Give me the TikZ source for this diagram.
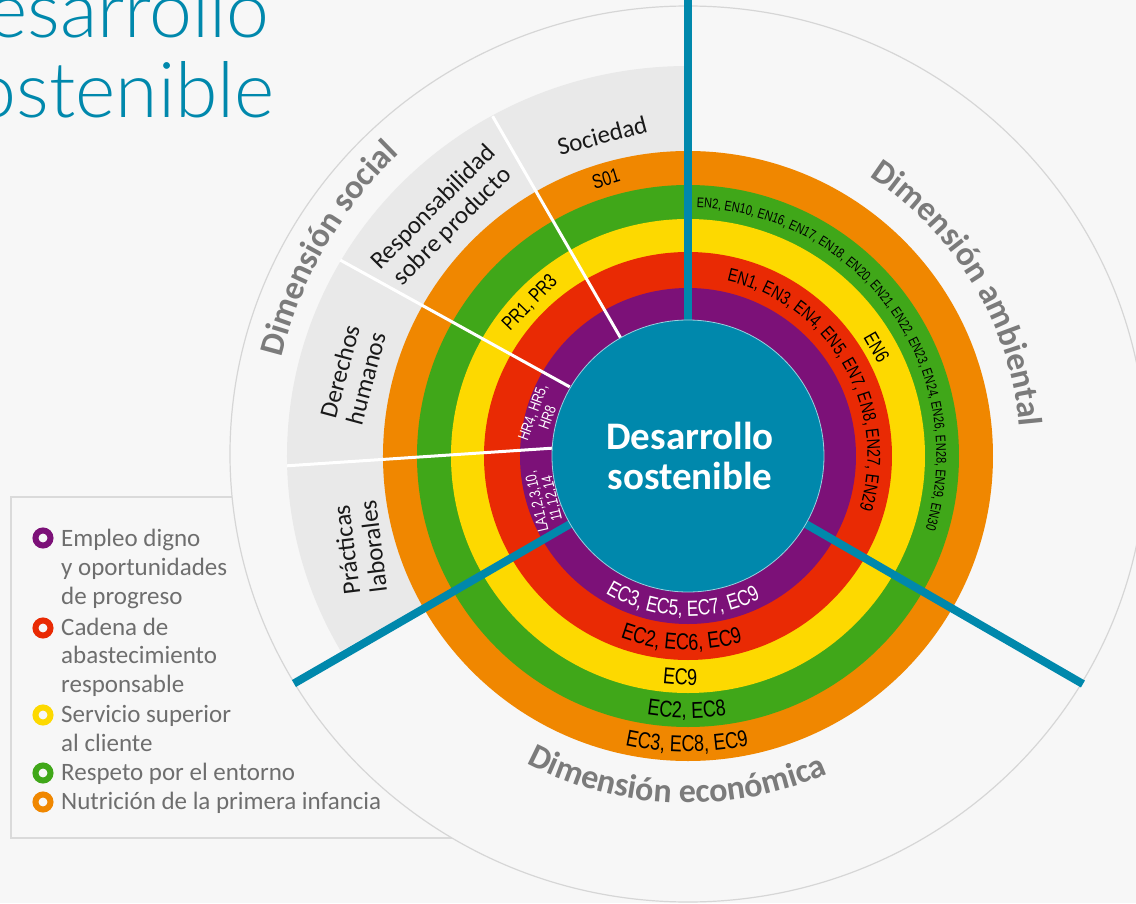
\documentclass[tikz,border=0pt]{standalone}
\usepackage{fontspec}
\setmainfont{Carlito}
\newfontfamily\codefont[FakeStretch=0.78]{Liberation Sans}
\newfontfamily\titlefont{Lato Light}
\usetikzlibrary{decorations.text}
\definecolor{bg}{HTML}{F7F7F7}
\definecolor{cteal}{HTML}{0088AC}
\definecolor{cpurple}{HTML}{7C1178}
\definecolor{cred}{HTML}{E92A04}
\definecolor{cyellow}{HTML}{FDD900}
\definecolor{cgreen}{HTML}{40A719}
\definecolor{corange}{HTML}{F08700}
\definecolor{sectorgray}{HTML}{E9E9E9}
\definecolor{dimgray}{HTML}{7B7B7B}
\definecolor{leggray}{HTML}{6E6E6E}
\definecolor{linegray}{HTML}{D6D6D6}
\definecolor{boxgray}{HTML}{DADADA}
\tikzset{
  glabel/.style={font=\fontsize{25}{27}\selectfont, text=black!90, inner sep=0pt, align=center},
  codelab/.style={font=\codefont\fontsize{20}{20}\selectfont, text=black, inner sep=0pt, align=center},
  codesmall/.style={font=\codefont\fontsize{15.5}{15.5}\selectfont, text=white, inner sep=0pt, align=center},
  legtext/.style={font=\fontsize{25}{29}\selectfont, text=leggray, inner sep=0pt, anchor=base west},
  legmark/.style={line width=6pt},
  sepline/.style={white, line width=3pt},
  dimline/.style={cteal, line width=8pt},
}
\begin{document}
\begin{tikzpicture}[x=1pt,y=1pt]
\useasboundingbox (-688,-447) rectangle (448,456);
\fill[bg] (-688,-447) rectangle (448,456);
\clip (-688,-447) rectangle (448,456);

% legend box (partly hidden by the big ellipse)
\draw[boxgray, line width=2pt] (-677,-41) rectangle (-200,-382);

% outer ellipse
\filldraw[fill=bg, draw=linegray, line width=1.2pt] (0,2) ellipse [x radius=458pt, y radius=448pt];

% gray sector of the social dimension
\fill[sectorgray] (0,0) -- (0,390) arc[start angle=90, end angle=210, x radius=401pt, y radius=390pt] -- cycle;

% rings
\fill[corange] (0,0) circle[radius=305pt];
\fill[cgreen] (0,0) circle[radius=271pt];
\fill[cyellow] (0,0) circle[radius=237pt];
\fill[cred] (0,0) circle[radius=204pt];
\fill[cpurple] (0,0) circle[radius=168pt];

% white separators
\draw[sepline] (119.7:136pt) -- (119.9:392pt);
\draw[sepline] (149.7:137pt) -- (150.6:399pt);
\draw[sepline] (176.7:136pt) -- (181.4:401pt);

% blue dimension separators
\draw[dimline] (90:136pt) -- (0,460);
\draw[dimline] (210:136pt) -- (210:455pt);
\draw[dimline] (-30:136pt) -- (-30:456pt);

% centre
\filldraw[fill=cteal, draw=white!60!cteal, line width=0.8pt] (0,0) circle[radius=136pt];
\node[font=\fontsize{39}{40}\selectfont\bfseries, text=white, anchor=base, inner sep=0pt] (c1) at (2,7) {Desarrollo};
\node[font=\fontsize{39}{40}\selectfont\bfseries, text=white, anchor=base, inner sep=0pt] (c2) at (2,-33) {sostenible};

% sector labels
\node[glabel, rotate=15] (soc) at (105:332pt) {Sociedad};
\node[glabel, rotate=45] (resp) at (135.7:342pt) {Responsabilidad\\sobre producto};
\node[glabel, rotate=75] (dh) at (166.4:345pt) {Derechos\\humanos};
\node[glabel, rotate=97] (pl) at (195.7:341pt) {Prácticas\\laborales};

% code labels in the social sector
\node[codelab, rotate=17] (s01) at (106.5:289pt) {S01};
\node[codelab, rotate=46] (pr) at (135.9:220pt) {PR1, PR3};
\node[codesmall, rotate=70] (hr) at (164.5:153.6pt) {HR4, HR5,\\HR8};
\node[codesmall, rotate=103] (la) at (197.1:149.6pt) {LA1,2,3,10,\\11,12,14};
\node[codelab, rotate=-60] (en6) at (30:218pt) {EN6};

% environmental codes along arcs
\path[decorate, decoration={text along path, text align=left,
  text={|\codefont\fontsize{14}{14}\selectfont|EN2, EN10, EN16, EN17, EN18, EN20, EN21, EN22, EN23, EN24, EN26, EN28, EN29, EN30}}]
  (88:248.5pt) arc[start angle=88, end angle=-40, radius=248.5pt];
\path[decorate, decoration={text along path, text align=left,
  text={|\codefont\fontsize{18.5}{18.5}\selectfont|EN1, EN3, EN4, EN5, EN7, EN8, EN27, EN29}}]
  (77.5:179.5pt) arc[start angle=77.5, end angle=-40, radius=179.5pt];

% economic codes along arcs
\path[decorate, decoration={text along path, text align=center,
  text={|\codefont\fontsize{22}{22}\selectfont\color{white}|EC3, EC5, EC7, EC9}}]
  (228:160pt) arc[start angle=228, end angle=308, radius=160pt];
\path[decorate, decoration={text along path, text align=center,
  text={|\codefont\fontsize{23}{23}\selectfont|EC2, EC6, EC9}}]
  (228:194pt) arc[start angle=228, end angle=308, radius=194pt];
\path[decorate, decoration={text along path, text align=center,
  text={|\codefont\fontsize{23}{23}\selectfont|EC9}}]
  (238:229pt) arc[start angle=238, end angle=298, radius=229pt];
\path[decorate, decoration={text along path, text align=center,
  text={|\codefont\fontsize{23}{23}\selectfont|EC2, EC8}}]
  (239.7:262pt) arc[start angle=239.7, end angle=299.7, radius=262pt];
\path[decorate, decoration={text along path, text align=center,
  text={|\codefont\fontsize{23}{23}\selectfont|EC3, EC8, EC9}}]
  (239.8:296pt) arc[start angle=239.8, end angle=299.8, radius=296pt];

% dimension titles
\path[decorate, decoration={text along path, text align=center,
  text={|\bfseries\fontsize{34}{34}\selectfont\color{dimgray}|Dimensión social}}]
  (180:418pt) arc[start angle=180, end angle=120, radius=418pt];
\path[decorate, decoration={text along path, text align=center,
  text={|\bfseries\fontsize{34}{34}\selectfont\color{dimgray}|Dimensión ambiental}}]
  (66:333pt) arc[start angle=66, end angle=-4, radius=333pt];
\path[decorate, decoration={text along path, text align=center,
  text={|\bfseries\fontsize{34}{34}\selectfont\color{dimgray}|Dimensión económica}}]
  (233:347pt) arc[start angle=233, end angle=303, radius=347pt];

% legend
\draw[legmark, cpurple] (-645,-82) circle[radius=7.5pt];
\draw[legmark, cred] (-645,-172) circle[radius=7.5pt];
\draw[legmark, cyellow] (-645,-259) circle[radius=7.5pt];
\draw[legmark, cgreen] (-645,-317) circle[radius=7.5pt];
\draw[legmark, corange] (-645,-346) circle[radius=7.5pt];
\foreach \t/\yy in {Empleo digno/546, y oportunidades/575, de progreso/604, Cadena de/635, abastecimiento/663, responsable/692, Servicio superior/722, al cliente/751, Respeto por el entorno/780, Nutrición de la primera infancia/809}
  \node[legtext] (leg\yy) at (-627,{456-\yy}) {\t};

% title
\node[font=\titlefont\fontsize{77}{77}\selectfont, text=cteal, anchor=base east, inner sep=0pt] (t1) at (-418,418) {Desarrollo};
\node[font=\titlefont\fontsize{77}{77}\selectfont, text=cteal, anchor=base east, inner sep=0pt] (t2) at (-413,338) {sostenible};
\end{tikzpicture}
\end{document}
